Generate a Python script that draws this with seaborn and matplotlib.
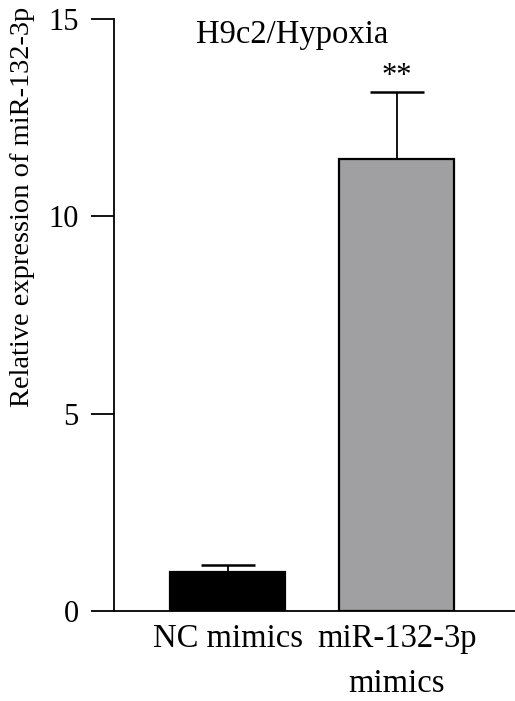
import matplotlib
matplotlib.use("Agg")
import matplotlib.pyplot as plt
import seaborn as sns

# values
groups = ["NC mimics", "miR-132-3p\nmimics"]
means = [1.0, 11.45]
sd_up = [0.17, 1.7]
bar_colors = ["#000000", "#a09fa4"]

sns.set_theme(style="white")
plt.rcParams["font.family"] = ["Liberation Serif", "DejaVu Serif"]
plt.rcParams["text.color"] = "black"
plt.rcParams["axes.labelcolor"] = "black"
plt.rcParams["xtick.color"] = "black"
plt.rcParams["ytick.color"] = "black"

fig = plt.figure(figsize=(5.15, 7.01), dpi=100)
ax = fig.add_axes([114 / 515, 90 / 701, 401 / 515, 592 / 701])

sns.barplot(
    x=groups,
    y=means,
    hue=groups,
    palette=bar_colors,
    legend=False,
    errorbar=None,
    width=0.68,
    edgecolor="black",
    linewidth=1.6,
    ax=ax,
)

# one-sided error bars (upper only)
_, caps, _ = ax.errorbar(
    x=[0, 1],
    y=means,
    yerr=[[0, 0], sd_up],
    fmt="none",
    ecolor="black",
    elinewidth=1.3,
    capsize=19.5,
    capthick=1.8,
    zorder=1,
)
caps[0].set_visible(False)  # drop lower cap

ax.set_xlim(-0.672, 1.70)
ax.set_ylim(0, 15)
ax.set_yticks([0, 5, 10, 15])

for side in ["top", "right"]:
    ax.spines[side].set_visible(False)
for side in ["left", "bottom"]:
    ax.spines[side].set_color("black")
    ax.spines[side].set_linewidth(1.3)

ax.tick_params(axis="y", length=16.5, width=1.3, color="black", pad=9,
               labelsize=22, left=True)
ax.tick_params(axis="x", length=0, pad=9, labelsize=23.5)
for lbl in ax.get_xticklabels():
    lbl.set_linespacing(1.6)

ax.set_xlabel("")
ax.set_ylabel("Relative expression of miR-132-3p", fontsize=20.5)
ax.yaxis.set_label_coords(-0.197, 0.682)

ax.text(0.38, 14.39, "H9c2/Hypoxia", ha="center", va="baseline", fontsize=23.5)
ax.text(1, means[1] + sd_up[1] + 0.02, "**", ha="center", va="bottom", fontsize=22)

fig.savefig("out.png", dpi=100)
